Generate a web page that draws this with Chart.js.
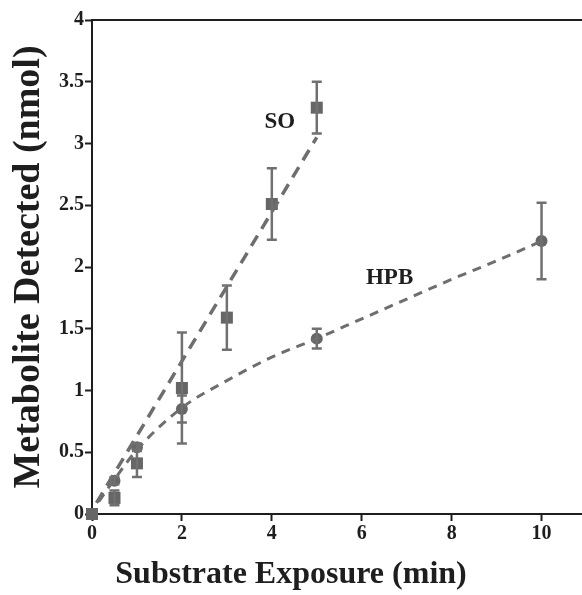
<!DOCTYPE html>
<html>
<head>
<meta charset="utf-8">
<script src="https://cdn.jsdelivr.net/npm/chart.js@4/dist/chart.umd.min.js"></script>
<style>
  html, body { margin: 0; padding: 0; background: #ffffff; }
  #wrap { width: 582px; height: 595px; }
</style>
</head>
<body>
<div id="wrap"><canvas id="c" width="582" height="595"></canvas></div>
<script>
// ---- data ----
const soX   = [0, 0.5, 1, 2, 3, 4, 5];
const soY   = [0, 0.13, 0.41, 1.02, 1.59, 2.51, 3.29];
const soErr = [0, 0.06, 0.11, 0.45, 0.26, 0.29, 0.21];

const hpbX   = [0, 0.5, 1, 2, 5, 10];
const hpbY   = [0, 0.27, 0.54, 0.85, 1.42, 2.21];
const hpbErr = [0, 0.03, 0.03, 0.11, 0.08, 0.31];

// dashed fit lines (read along the drawn dashes)
const soFitX  = [0.1, 5];
const soFitY  = [0.09, 3.05];
const hpbFitX = [0.15, 0.5, 1, 2, 3, 4, 5, 6, 7, 8, 9, 10];
const hpbFitY = [0.10, 0.28, 0.52, 0.86, 1.08, 1.27, 1.42, 1.58, 1.74, 1.90, 2.05, 2.21];

// curve labels
const labelText = ['SO', 'HPB'];
const labelX    = [4.18, 6.62];
const labelY    = [3.17, 1.91];

const xTickStep = 2;
const yTickStep = 0.5;

const pts = (xs, ys) => xs.map((x, i) => ({x: x, y: ys[i]}));

const SERIF = '"Liberation Serif", "Times New Roman", serif';
const INK = '#1e1e1e';
const GREY = '#666666';

const errorBarPlugin = {
  id: 'errorBars',
  afterDatasetsDraw(chart) {
    const ctx = chart.ctx;
    const xs = chart.scales.x, ys = chart.scales.y;
    chart.data.datasets.forEach((ds, di) => {
      if (!ds.errors) return;
      const meta = chart.getDatasetMeta(di);
      if (meta.hidden) return;
      ctx.save();
      ctx.strokeStyle = '#707070';
      ctx.lineWidth = 2.5;
      ds.data.forEach((p, i) => {
        const e = ds.errors[i];
        if (!e) return;
        const px = xs.getPixelForValue(p.x);
        const top = ys.getPixelForValue(p.y + e);
        const bot = ys.getPixelForValue(p.y - e);
        ctx.beginPath();
        ctx.moveTo(px, top); ctx.lineTo(px, bot);
        ctx.moveTo(px - 5, top); ctx.lineTo(px + 5, top);
        ctx.moveTo(px - 5, bot); ctx.lineTo(px + 5, bot);
        ctx.stroke();
      });
      ctx.restore();
    });
  }
};

const curveLabelPlugin = {
  id: 'curveLabels',
  afterDatasetsDraw(chart) {
    const ctx = chart.ctx;
    const xs = chart.scales.x, ys = chart.scales.y;
    ctx.save();
    ctx.fillStyle = INK;
    ctx.font = 'bold 23px ' + SERIF;
    ctx.textAlign = 'center';
    ctx.textBaseline = 'middle';
    labelText.forEach((t, i) => {
      ctx.fillText(t, xs.getPixelForValue(labelX[i]), ys.getPixelForValue(labelY[i]));
    });
    ctx.restore();
  }
};

new Chart(document.getElementById('c'), {
  type: 'line',
  data: {
    datasets: [
      {
        label: 'SO fit',
        data: pts(soFitX, soFitY),
        borderColor: '#6e6e6e',
        borderWidth: 3.5,
        borderDash: [12, 8],
        pointRadius: 0,
        fill: false,
        tension: 0
      },
      {
        label: 'HPB fit',
        data: pts(hpbFitX, hpbFitY),
        borderColor: '#6e6e6e',
        borderWidth: 3,
        borderDash: [9, 7],
        pointRadius: 0,
        fill: false,
        cubicInterpolationMode: 'monotone'
      },
      {
        label: 'SO',
        data: pts(soX, soY),
        errors: soErr,
        showLine: false,
        pointStyle: 'rect',
        pointRadius: 8.5,
        pointBackgroundColor: GREY,
        pointBorderColor: GREY,
        pointBorderWidth: 0,
        clip: false
      },
      {
        label: 'HPB',
        data: pts(hpbX, hpbY),
        errors: hpbErr,
        showLine: false,
        pointStyle: 'circle',
        pointRadius: 6,
        pointBackgroundColor: GREY,
        pointBorderColor: GREY,
        pointBorderWidth: 0,
        clip: false
      }
    ]
  },
  options: {
    responsive: false,
    animation: false,
    devicePixelRatio: 1,
    layout: { autoPadding: false, padding: { top: 20, right: 0, left: 0, bottom: 0 } },
    plugins: {
      legend: { display: false },
      tooltip: { enabled: false },
      title: {
        display: true,
        position: 'bottom',
        text: 'Substrate Exposure (min)',
        color: INK,
        font: { family: SERIF, size: 32, weight: 'bold', lineHeight: 1.2 },
        padding: { top: 9, bottom: 1 }
      }
    },
    scales: {
      x: {
        type: 'linear',
        position: 'bottom',
        min: 0,
        max: 10.9,
        ticks: {
          stepSize: xTickStep,
          includeBounds: false,
          color: INK,
          font: { family: SERIF, size: 20, weight: 'bold' },
          padding: 1,
          maxRotation: 0,
          callback: (v) => String(Number(v.toFixed(2)))
        },
        grid: { drawOnChartArea: false, tickLength: 7, tickColor: INK, tickWidth: 2 },
        border: { color: INK, width: 2 },
        afterFit(s) { s.height = 32.6; }
      },
      xTop: {
        type: 'linear',
        position: 'top',
        display: true,
        min: 0, max: 1,
        ticks: { display: false },
        grid: { display: false },
        border: { display: true, color: INK, width: 2 },
        afterFit(s) { s.height = 0; }
      },
      y: {
        type: 'linear',
        min: 0,
        max: 4,
        ticks: {
          stepSize: yTickStep,
          color: INK,
          font: { family: SERIF, size: 20, weight: 'bold' },
          padding: 1,
          callback: (v) => String(Number(v.toFixed(2)))
        },
        grid: { drawOnChartArea: false, tickLength: 7, tickColor: INK, tickWidth: 2 },
        border: { color: INK, width: 2 },
        title: {
          display: true,
          text: 'Metabolite Detected (nmol)',
          color: INK,
          font: { family: SERIF, size: 38, weight: 'bold', lineHeight: 1.2 },
          padding: { top: 6, bottom: 0 }
        },
        afterFit(s) { s.width = 92; }
      }
    }
  },
  plugins: [errorBarPlugin, curveLabelPlugin]
});
</script>
</body>
</html>
